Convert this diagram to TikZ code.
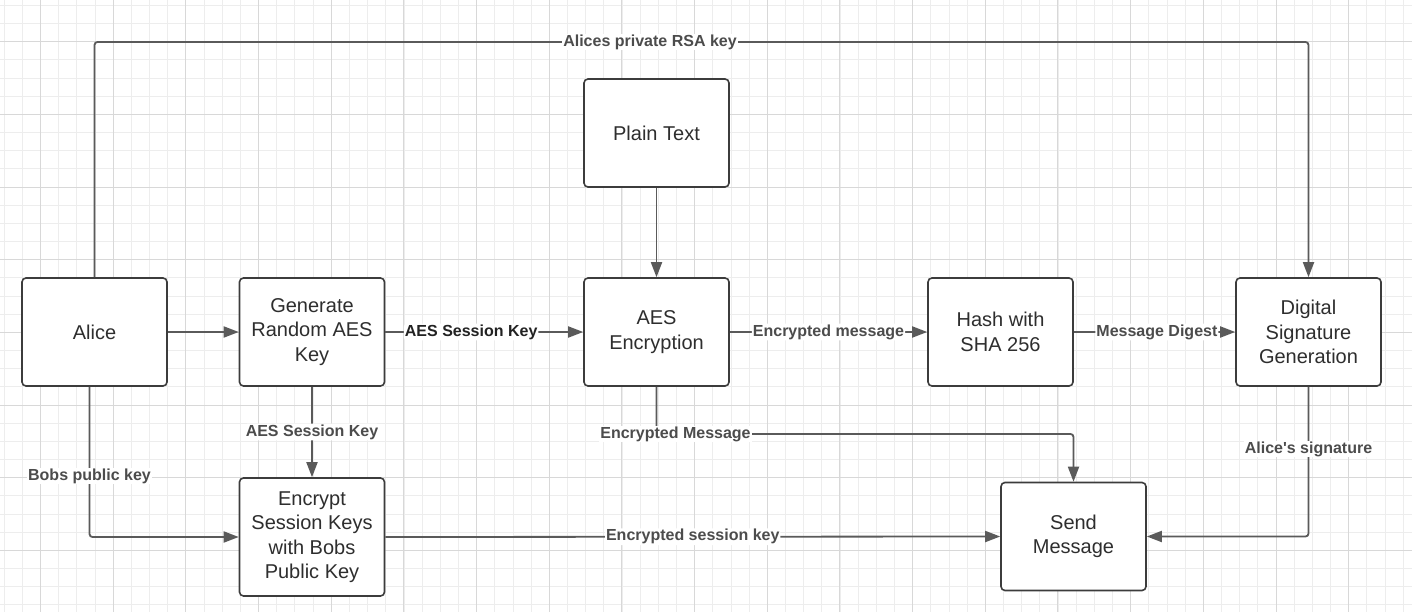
\documentclass[tikz,border=0pt]{standalone}
\usepackage{fontspec}
\setmainfont{Liberation Sans}
\usetikzlibrary{arrows.meta}
\definecolor{gminor}{HTML}{EDEDED}
\definecolor{gmajor}{HTML}{D8D8D8}
\definecolor{edgec}{HTML}{3C3C3C}
\definecolor{wirec}{HTML}{5A5A5A}
\definecolor{lbltext}{HTML}{4C4C4C}
\definecolor{darklbl}{HTML}{222222}
\definecolor{boxtext}{HTML}{2E2E2E}
\begin{document}
\begin{tikzpicture}[x=1pt,y=-1pt,
  box/.style={draw=edgec, line width=1.6pt, rounded corners=4pt, fill=white,
    minimum width=145pt, minimum height=108pt, align=center, text=boxtext,
    font=\fontsize{20}{24.5}\selectfont, inner sep=2pt},
  wirestyle/.style={draw=wirec, line width=1.8pt, rounded corners=3pt,
    -{Triangle[length=15pt,width=11pt]}},
  lbl/.style={fill=white, text=lbltext, font=\fontsize{16}{18}\selectfont\bfseries, inner sep=1pt}
]
\useasboundingbox (0,0) rectangle (1412,612);
\fill[white] (0,0) rectangle (1412,612);
% grid
\begin{scope}
\clip (0,0) rectangle (1412,612);
\foreach \i in {0,...,78} \draw[gminor, line width=0.7pt] ({4.17+\i*18.167},0) -- ({4.17+\i*18.167},612);
\foreach \j in {0,...,33} \draw[gminor, line width=0.7pt] (0,{5.27+\j*18.167}) -- (1412,{5.27+\j*18.167});
\foreach \i in {0,...,18} \draw[gmajor, line width=0.8pt] ({40.5+\i*72.67},0) -- ({40.5+\i*72.67},612);
\foreach \j in {0,...,7} \draw[gmajor, line width=0.8pt] (0,{41.6+\j*72.67}) -- (1412,{41.6+\j*72.67});
\end{scope}

% nodes
\node[box] (alice) at (94.5,332) {Alice};
\node[box] (gen) at (312,332) {Generate\\Random AES\\Key};
\node[box] (plain) at (656.5,133) {Plain Text};
\node[box] (aes) at (656.5,332) {AES\\Encryption};
\node[box] (hash) at (1000.5,332) {Hash with\\SHA 256};
\node[box] (dig) at (1308.5,332) {Digital\\Signature\\Generation};
\node[box, minimum height=118pt] (enc) at (312,537) {Encrypt\\Session Keys\\with Bobs\\Public Key};
\node[box] (send) at (1073.5,536.5) {Send\\Message};

% coordinates for bends and labels
\coordinate (rsa) at (650,42);
\coordinate (bob) at (89.5,476);
\coordinate (em) at (656.5,434);
\coordinate (sig) at (1308.5,449);

% connectors
\draw[wirestyle] (alice.north) |- (rsa) -| (dig.north);
\node[lbl] at (rsa) {Alices private RSA key};

\draw[wirestyle] (alice) -- (gen);
\draw[wirestyle] (gen) -- node[lbl, pos=0.434, text=darklbl] {AES Session Key} (aes);
\draw[wirestyle] (plain) -- (aes);
\draw[wirestyle] (aes) -- node[lbl] {Encrypted message} (hash);
\draw[wirestyle] (hash) -- node[lbl, pos=0.515] {Message Digest} (dig);
\draw[wirestyle] (gen) -- node[lbl] {AES Session Key} (enc);

\draw[wirestyle] ([xshift=-5pt]alice.south) -- (bob) |- (enc.west);
\node[lbl] at (bob) {Bobs public key};

\draw[wirestyle] (aes.south) -- (em) -| (send.north);
\node[lbl] at ([xshift=19pt]em) {Encrypted Message};

\draw[wirestyle] (enc.east) -- node[lbl] {Encrypted session key} (send.west);

\draw[wirestyle] (dig.south) -- (sig) |- (send.east);
\node[lbl] at (sig) {Alice\textquotesingle s signature};
\end{tikzpicture}
\end{document}
